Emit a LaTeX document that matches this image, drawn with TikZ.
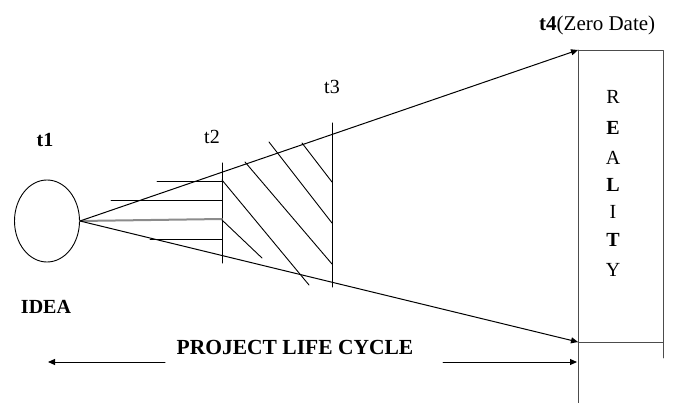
\documentclass[tikz,border=0pt]{standalone}
\usepackage{fontspec}
\setmainfont{Liberation Serif}
\usetikzlibrary{arrows.meta,shapes.geometric}
\begin{document}
\begin{tikzpicture}[x=1pt, y=-1pt, line cap=round, line join=round,
    lab/.style={inner sep=0pt, font=\fontsize{20}{22}\selectfont},
    boldlab/.style={inner sep=0pt, font=\fontsize{20}{22}\selectfont\bfseries},
    edge/.style={line width=1pt},
    hatch/.style={line width=0.9pt},
    boxline/.style={line width=0.8pt, black!70},
    tip/.style={-{Triangle[length=7pt,width=6pt]}}]
  \useasboundingbox (0,0) rectangle (676,403);
  % idee links
  \node[ellipse, draw, line width=0.9pt, minimum width=65pt, minimum height=82pt, inner sep=0pt] (idea) at (47,221) {};
  \node[boldlab] (t1) at (45,140) {t1};
  \node[boldlab] (idealab) at (46,307) {IDEA};
  % zeitpunkte t2, t3
  \coordinate (t2top) at (222,163);
  \coordinate (t2bot) at (222,263);
  \coordinate (t3top) at (332,123);
  \coordinate (t3bot) at (332,287);
  \node[lab] (t2) at (212,137) {t2};
  \node[lab] (t3) at (332,87) {t3};
  \draw[edge] (t2top) -- (t2bot);
  \draw[edge] (t3top) -- (t3bot);
  % waagrechte striche bei t2
  \draw[hatch] (157,181) -- (222,181);
  \draw[hatch] (111,200) -- (222,200);
  \draw[line width=2pt, black!45] (idea.east) -- (222,219);
  \draw[hatch] (150,239) -- (222,239);
  % schraffur zwischen t2 und t3
  \draw[hatch] (222,220) -- (262,258);
  \draw[hatch] (222,180) -- (309,285);
  \draw[hatch] (245,162) -- (332,264);
  \draw[hatch] (269,142) -- (332,223);
  \draw[hatch] (302,143) -- (332,182);
  % realitaet rechts
  \coordinate (t4top) at (578,50);
  \coordinate (t4bot) at (578,342);
  \draw[boxline] (t4top) -- (663,50) -- (663,358);
  \draw[boxline] (t4top) -- (578,403);
  \draw[boxline] (t4bot) -- (663,342);
  \node[lab, anchor=west, font=\fontsize{21}{23}\selectfont] (t4) at (539,25) {\textbf{t4}(Zero Date)};
  \foreach \ch/\yy/\ft in {R/97/\mdseries, E/128/\bfseries, A/158/\mdseries, L/185/\bfseries,
      I/212/\mdseries, T/240/\bfseries, Y/270/\mdseries}
    \node[lab] (r\yy) at (613,\yy) {\ft\ch};
  % kegel
  \draw[edge, tip] (idea.east) -- (t4top);
  \draw[edge, tip] (idea.east) -- (t4bot);
  % lebenszyklus
  \node[boldlab, font=\fontsize{21.5}{23}\selectfont\bfseries] (cycle) at (295,347) {PROJECT LIFE CYCLE};
  \coordinate (cycleL) at (48,362);
  \coordinate (cycleR) at (577,362);
  \draw[edge, tip] (165,362) -- (cycleL);
  \draw[edge, tip] (443,362) -- (cycleR);
\end{tikzpicture}
\end{document}
